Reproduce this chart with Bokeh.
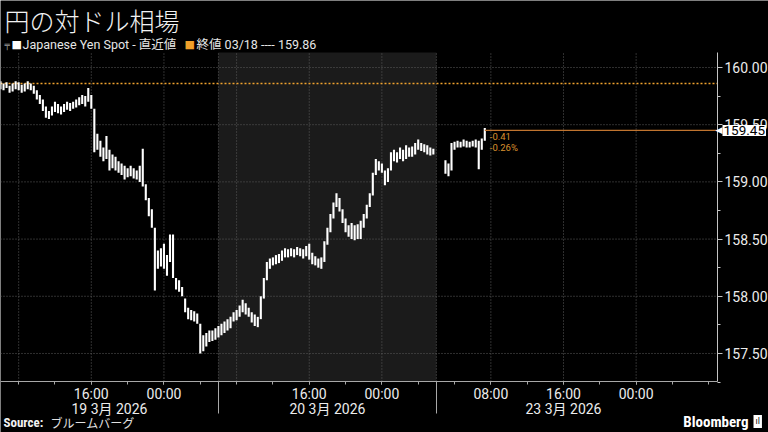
from bokeh.plotting import figure
from bokeh.models import (Range1d, FixedTicker, LinearAxis, Label, LabelSet,
                          ColumnDataSource, NumeralTickFormatter)
from bokeh.embed import file_html
from bokeh.resources import INLINE
from bokeh.core.properties import value

# ---------------- data ----------------
title_text = "円の対ドル相場"
series_name = "Japanese Yen Spot - 直近値"
ref_name = "終値 03/18 ---- 159.86"
prev_close = 159.86
last_price = 159.45
change_abs = "-0.41"
change_pct = "-0.26%"
source_label = "Source:"
source_text = "ブルームバーグ"
brand_text = "Bloomberg"

# 20-minute high/low bars. Hour 0 = 19 Mar 06:00 (Tokyo); weekend compressed.
mar19_high = [159.88, 159.86, 159.87, 159.84, 159.86, 159.88, 159.87, 159.85, 159.86, 159.88, 159.86, 159.84,
              159.80, 159.76, 159.72, 159.66, 159.62, 159.66, 159.70, 159.68, 159.66, 159.68, 159.70, 159.69,
              159.70, 159.72, 159.74, 159.76, 159.75, 159.82, 159.76, 159.64, 159.42, 159.36, 159.30, 159.40,
              159.28, 159.24, 159.22, 159.18, 159.16, 159.14, 159.12, 159.14, 159.12, 159.10, 159.14, 159.29,
              158.98, 158.86, 158.76, 158.60, 158.40, 158.42, 158.46, 158.36, 158.54, 158.54, 158.16, 158.14,
              158.08, 157.98, 157.90, 157.88, 157.87, 157.85, 157.76, 157.66, 157.68, 157.70, 157.70, 157.72]
mar19_low = [159.81, 159.80, 159.82, 159.78, 159.79, 159.81, 159.80, 159.78, 159.79, 159.81, 159.80, 159.77,
             159.72, 159.68, 159.62, 159.56, 159.55, 159.58, 159.61, 159.60, 159.59, 159.61, 159.63, 159.62,
             159.64, 159.65, 159.67, 159.68, 159.66, 159.70, 159.64, 159.26, 159.28, 159.22, 159.18, 159.20,
             159.10, 159.12, 159.10, 159.08, 159.06, 159.02, 159.04, 159.05, 159.03, 159.02, 159.00, 158.96,
             158.84, 158.70, 158.60, 158.05, 158.24, 158.26, 158.24, 158.18, 158.30, 158.16, 158.06, 158.04,
             158.00, 157.86, 157.80, 157.79, 157.78, 157.76, 157.50, 157.52, 157.56, 157.60, 157.61, 157.62]
mar20_high = [157.74, 157.76, 157.78, 157.80, 157.82, 157.86, 157.88, 157.92, 157.97, 157.94, 157.90, 157.86,
              157.84, 157.82, 158.00, 158.16, 158.30, 158.33, 158.34, 158.36, 158.37, 158.40, 158.42, 158.41,
              158.42, 158.41, 158.43, 158.42, 158.41, 158.44, 158.46, 158.38, 158.35, 158.33, 158.34, 158.48,
              158.60, 158.72, 158.82, 158.90, 158.86, 158.76, 158.68, 158.62, 158.64, 158.62, 158.63, 158.66,
              158.72, 158.80, 158.90, 159.08, 159.20, 159.18, 159.16, 159.10, 159.12, 159.26, 159.28, 159.26,
              159.30, 159.28, 159.32, 159.30, 159.31, 159.34, 159.37, 159.34, 159.33, 159.32, 159.30, 159.29]
mar20_low = [157.64, 157.66, 157.68, 157.70, 157.72, 157.78, 157.79, 157.82, 157.86, 157.84, 157.82, 157.77,
             157.74, 157.73, 157.80, 157.98, 158.14, 158.24, 158.27, 158.28, 158.29, 158.31, 158.34, 158.34,
             158.35, 158.34, 158.36, 158.35, 158.33, 158.35, 158.32, 158.28, 158.27, 158.25, 158.24, 158.30,
             158.45, 158.56, 158.68, 158.78, 158.74, 158.64, 158.56, 158.52, 158.50, 158.49, 158.50, 158.50,
             158.60, 158.68, 158.78, 158.88, 159.06, 159.10, 159.08, 158.97, 159.00, 159.10, 159.18, 159.17,
             159.20, 159.18, 159.20, 159.22, 159.22, 159.24, 159.28, 159.27, 159.26, 159.24, 159.23, 159.24]
mar23_high = [159.19, 159.16, 159.34, 159.35, 159.36, 159.35, 159.37, 159.36, 159.35, 159.36, 159.37, 159.36,
              159.38, 159.47]
mar23_low = [159.07, 159.05, 159.10, 159.28, 159.30, 159.30, 159.31, 159.30, 159.30, 159.31, 159.30, 159.11,
             159.28, 159.36]
session_start_hours = [0, 24, 49]
bar_step_hours = 1 / 3

x_end_hours = 78.96          # right price axis
y_low, y_high = 157.255, 160.131
y_ticks = [157.5, 158.0, 158.5, 159.0, 159.5, 160.0]
y_minor_ticks = [157.25, 157.5, 157.75, 158.0, 158.25, 158.5, 158.75, 159.0, 159.25, 159.5, 159.75, 160.0]
day_separators = [24, 48]
grid_hours = [2, 10, 18, 24, 26, 34, 42, 48, 54, 62, 70]
minor_tick_hours = [2, 6, 10, 14, 18, 22, 26, 30, 34, 38, 42, 46, 50, 54, 58, 62, 66, 70, 74, 78]
time_tick_hours = [10, 18, 34, 42, 54, 62, 70]
time_tick_labels = ["16:00", "00:00", "16:00", "00:00", "08:00", "16:00", "00:00"]
date_label_hours = [12, 36, 62]
date_labels = ["19 3月 2026", "20 3月 2026", "23 3月 2026"]

# ---------------- build bars ----------------
bar_t, bar_hi, bar_lo = [], [], []
for start, highs, lows in zip(session_start_hours,
                              [mar19_high, mar20_high, mar23_high],
                              [mar19_low, mar20_low, mar23_low]):
    for k, (h, l) in enumerate(zip(highs, lows)):
        bar_t.append(start + k * bar_step_hours)
        bar_hi.append(h)
        bar_lo.append(l)
bars = ColumnDataSource(dict(t=bar_t, hi=bar_hi, lo=bar_lo))

FONT = "Roboto, Noto Sans CJK JP"
NARROW = "Liberation Sans Narrow, Roboto Condensed, Roboto"
CJK = "Noto Sans CJK JP"

# geometry: the frame fills the whole canvas; the chart area is a sub-rectangle of it
W, H = 768, 432
plot_left, plot_right, plot_top, plot_bottom = 0, 717, 52, 381     # canvas pixels
px_per_hour = (plot_right - plot_left) / x_end_hours
px_per_yen = (plot_bottom - plot_top) / (y_high - y_low)
x_range = Range1d(-plot_left / px_per_hour, (W - plot_left) / px_per_hour)
y_range = Range1d(y_low - (H - plot_bottom) / px_per_yen, y_high + plot_top / px_per_yen)

p = figure(width=W, height=H, x_range=x_range, y_range=y_range, x_axis_location=None,
           y_axis_location=None, output_backend="svg", toolbar_location=None, min_border=0,
           background_fill_color="black", border_fill_color="black", outline_line_color=None)
p.grid.visible = False

# shaded Friday session
p.quad(left=[day_separators[0]], right=[day_separators[1]], bottom=[y_low], top=[y_high],
       fill_color="#1b1b1b", line_color=None, level="image")

# dotted grid inside the chart area
p.segment(x0=[0] * len(y_ticks), x1=[x_end_hours] * len(y_ticks), y0=y_ticks, y1=y_ticks,
          line_color="#5e5e5e", line_dash="1 2", line_width=1)
p.segment(x0=grid_hours, x1=grid_hours, y0=[y_low] * len(grid_hours), y1=[y_high] * len(grid_hours),
          line_color="#5e5e5e", line_dash="1 2", line_width=1)

# price axis (right)
ya = LinearAxis(fixed_location=x_end_hours, bounds=(y_low, y_high),
                ticker=FixedTicker(ticks=y_ticks, minor_ticks=y_minor_ticks),
                formatter=NumeralTickFormatter(format="0.00"))
ya.axis_line_color = "#c4c4c4"
ya.major_tick_line_color = "#c4c4c4"
ya.minor_tick_line_color = "#c4c4c4"
ya.major_tick_out, ya.major_tick_in = 5, 0
ya.minor_tick_out, ya.minor_tick_in = 3, 0
ya.major_label_standoff = 2
ya.major_label_text_color = "#ececec"
ya.major_label_text_font = FONT
ya.major_label_text_font_size = "14px"
p.add_layout(ya, "right")

# time axis (below)
xa = LinearAxis(fixed_location=y_low, bounds=(0, x_end_hours),
                ticker=FixedTicker(ticks=time_tick_hours, minor_ticks=minor_tick_hours),
                major_label_overrides=dict(zip(time_tick_hours, time_tick_labels)))
xa.axis_line_color = "#a8a8a8"
xa.major_tick_line_color = "#a8a8a8"
xa.minor_tick_line_color = "#a8a8a8"
xa.major_tick_out, xa.major_tick_in = 3, 0
xa.minor_tick_out, xa.minor_tick_in = 3, 0
xa.major_label_standoff = 1
xa.major_label_text_color = "#ececec"
xa.major_label_text_font = FONT
xa.major_label_text_font_size = "14px"
p.add_layout(xa, "below")

# day separators below the time axis
sa = LinearAxis(fixed_location=y_low, bounds=(0, x_end_hours),
                ticker=FixedTicker(ticks=day_separators, minor_ticks=[]),
                major_label_overrides={d: "" for d in day_separators})
sa.axis_line_color = None
sa.major_tick_line_color = "#a8a8a8"
sa.major_tick_out, sa.major_tick_in = 32, 0
sa.major_label_text_font_size = "1px"
p.add_layout(sa, "below")

# previous-close reference line (dotted orange)
p.segment(x0=[0], x1=[x_end_hours], y0=[prev_close], y1=[prev_close],
          line_color="#f0a22e", line_dash="2 2", line_width=1.3)

# bars
p.segment(x0="t", y0="lo", x1="t", y1="hi", source=bars, line_color="white", line_width=2.1)

# last price line
p.segment(x0=[bar_t[-1]], y0=[last_price], x1=[x_end_hours], y1=[last_price],
          line_color="#c0742f", line_width=1.2)

# change annotations
for txt, dy in ((change_abs, -6), (change_pct, -17)):
    p.add_layout(Label(x=bar_t[-1], y=last_price, x_offset=5, y_offset=dy, text=txt,
                       text_color="#d9912f", text_font=FONT, text_font_size="9.5px",
                       text_baseline="middle"))

# last price tag on the axis
p.add_layout(Label(x=x_end_hours, y=last_price, x_offset=5, text=f"{last_price:.2f}", text_color="black",
                   background_fill_color="white", text_font=FONT, text_font_size="13.5px",
                   text_baseline="middle", padding=1))
p.add_layout(Label(x=x_end_hours, y=last_price, x_offset=5, text="◀", text_color="white",
                   text_font="DejaVu Sans", text_font_size="9px", text_baseline="middle", text_align="right"))

# date labels under the time labels (screen y measured up from canvas bottom)
p.add_layout(LabelSet(x="h", y=H - 408, y_units="screen", text="txt",
                      source=ColumnDataSource(dict(h=date_label_hours, txt=date_labels)),
                      text_align="center", text_baseline="middle", text_color="#ececec",
                      text_font=value(FONT), text_font_size="14px"))

# title and legend
p.add_layout(Label(x=4, y=H - 19, x_units="screen", y_units="screen", text=title_text,
                   text_color="#f2f2f2", text_font="Noto Sans CJK JP Light, Noto Sans CJK JP",
                   text_font_size="25px", text_baseline="middle"))
p.add_layout(Label(x=4, y=H - 44, x_units="screen", y_units="screen", text="╤", text_color="#9a9a9a",
                   text_font="DejaVu Sans", text_font_size="9px", text_baseline="middle"))
p.add_layout(Label(x=11, y=H - 44, x_units="screen", y_units="screen", text="■", text_color="white",
                   text_font="DejaVu Sans", text_font_size="11px", text_baseline="middle"))
p.add_layout(Label(x=22, y=H - 44, x_units="screen", y_units="screen", text=series_name,
                   text_color="#e6e6e6", text_font=FONT, text_font_size="12.5px", text_baseline="middle"))
p.add_layout(Label(x=184, y=H - 44, x_units="screen", y_units="screen", text="■", text_color="#f0a02a",
                   text_font="DejaVu Sans", text_font_size="11px", text_baseline="middle"))
p.add_layout(Label(x=196, y=H - 44, x_units="screen", y_units="screen", text=ref_name,
                   text_color="#e6e6e6", text_font=FONT, text_font_size="12.5px", text_baseline="middle"))

# footer
p.add_layout(Label(x=3, y=H - 422, x_units="screen", y_units="screen", text=source_label, text_color="#f2f2f2",
                   text_font=NARROW, text_font_style="bold", text_font_size="13px", text_baseline="middle"))
p.add_layout(Label(x=50, y=H - 422, x_units="screen", y_units="screen", text=source_text, text_color="#e0e0e0",
                   text_font=CJK, text_font_size="12px", text_baseline="middle"))
p.add_layout(Label(x=748, y=H - 421, x_units="screen", y_units="screen", text=brand_text, text_color="white",
                   text_font=NARROW, text_font_style="bold", text_font_size="15px", text_baseline="middle",
                   text_align="right"))
p.add_layout(Label(x=753, y=H - 421, x_units="screen", y_units="screen", text="ıl", text_color="black",
                   background_fill_color="white", text_font="DejaVu Sans", text_font_size="8px",
                   text_baseline="middle", padding=2))

open("out.html", "w").write(file_html(p, INLINE))
